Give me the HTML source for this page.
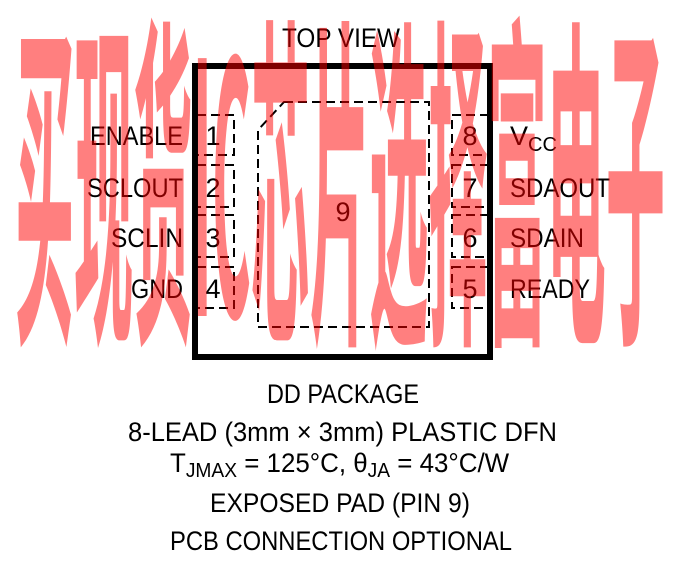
<!DOCTYPE html>
<html><head><meta charset="utf-8"><style>
html,body{margin:0;padding:0;background:#fff;}
svg{display:block;}
text{font-family:"Liberation Sans",sans-serif;fill:#000;}
</style></head><body>
<svg width="675" height="575" viewBox="0 0 675 575" xmlns="http://www.w3.org/2000/svg">
<text x="282" y="47" font-size="27" textLength="118" lengthAdjust="spacingAndGlyphs">TOP VIEW</text>
<rect x="195" y="66" width="295" height="291" fill="none" stroke="#000" stroke-width="6"/>
<g fill="none" stroke="#000" stroke-width="2" stroke-dasharray="9,5">
<rect x="197" y="115" width="37" height="40"/>
<rect x="197" y="165" width="37" height="42"/>
<rect x="197" y="215" width="37" height="42"/>
<rect x="197" y="267" width="37" height="41"/>
<rect x="452" y="115" width="37" height="40"/>
<rect x="452" y="165" width="37" height="42"/>
<rect x="452" y="215" width="37" height="42"/>
<rect x="452" y="267" width="37" height="41"/>
<path d="M284 102 L429 102 L429 327 L258 327 L258 130 Z"/>
</g>
<g font-size="27">
<text x="213" y="145" text-anchor="middle">1</text>
<text x="213" y="197" text-anchor="middle">2</text>
<text x="213" y="247" text-anchor="middle">3</text>
<text x="213" y="298" text-anchor="middle">4</text>
<text x="470" y="145" text-anchor="middle">8</text>
<text x="470" y="197" text-anchor="middle">7</text>
<text x="470" y="247" text-anchor="middle">6</text>
<text x="470" y="298" text-anchor="middle">5</text>
<text x="343" y="221" text-anchor="middle">9</text>
<text x="90" y="145" textLength="93" lengthAdjust="spacingAndGlyphs">ENABLE</text>
<text x="87" y="197" textLength="96" lengthAdjust="spacingAndGlyphs">SCLOUT</text>
<text x="111" y="247" textLength="72" lengthAdjust="spacingAndGlyphs">SCLIN</text>
<text x="131" y="298" textLength="52" lengthAdjust="spacingAndGlyphs">GND</text>
<text x="510" y="145">V<tspan font-size="20" dy="6">CC</tspan></text>
<text x="510" y="197" textLength="100" lengthAdjust="spacingAndGlyphs">SDAOUT</text>
<text x="510" y="247" textLength="74" lengthAdjust="spacingAndGlyphs">SDAIN</text>
<text x="510" y="298" textLength="80" lengthAdjust="spacingAndGlyphs">READY</text>
<text x="267" y="403" textLength="152" lengthAdjust="spacingAndGlyphs">DD PACKAGE</text>
<text x="128" y="441" textLength="429" lengthAdjust="spacingAndGlyphs">8-LEAD (3mm × 3mm) PLASTIC DFN</text>
<g transform="translate(170,0) scale(0.96,1) translate(-170,0)">
<text x="170" y="472">T<tspan font-size="20" dy="5">JMAX</tspan><tspan dy="-5"> = 125°C, θ</tspan><tspan font-size="20" dy="5">JA</tspan><tspan dy="-5"> = 43°C/W</tspan></text>
</g>
<text x="210" y="512" textLength="260" lengthAdjust="spacingAndGlyphs">EXPOSED PAD (PIN 9)</text>
<text x="170" y="550" textLength="342" lengthAdjust="spacingAndGlyphs">PCB CONNECTION OPTIONAL</text>
</g>
<g transform="translate(0,316) scale(1,6.0)">
<text x="15" y="0" font-size="58" font-weight="bold" textLength="650" lengthAdjust="spacingAndGlyphs" style="font-family:'Noto Sans CJK SC',sans-serif;fill:rgba(255,0,0,0.5)">买现货IC芯片选择富电子</text>
</g>
</svg>
</body></html>
